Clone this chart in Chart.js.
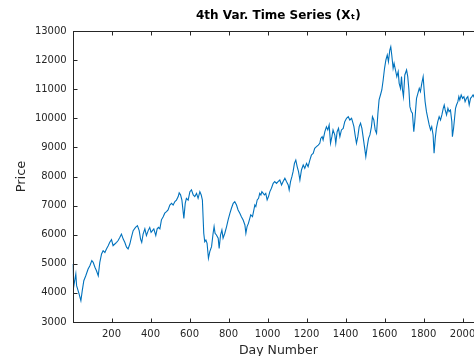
<!DOCTYPE html>
<html><head><meta charset="utf-8">
<script src="https://cdn.jsdelivr.net/npm/chart.js@4.4.0/dist/chart.umd.min.js"></script>
<style>
html,body{margin:0;padding:0;background:#fff;overflow:hidden;width:474px;height:356px;}
#wrap{position:absolute;left:0;top:0;width:490px;height:362px;}
</style></head><body>
<div id="wrap"><canvas id="c" width="490" height="362"></canvas></div>
<script>
const days = [0,7,17,21,34,43,50,58,68,80,89,99,106,115,123,132,140,149,157,166,174,183,191,200,208,217,226,234,243,251,260,268,277,285,294,302,311,323,333,342,349,355,362,371,379,388,396,403,410,417,427,434,441,448,
456,465,473,482,490,499,508,516,525,533,542,547,554,561,571,578,584,593,602,610,619,627,636,644,653,660,666,673,678,684,690,697,704,713,721,726,731,738,747,752,759,766,772,781,790,798,807,815,824,832,841,849,858,866,875,884,889,895,902,909,
914,923,930,935,940,947,954,960,966,971,978,984,991,998,1005,1012,1020,1029,1037,1046,1054,1063,1072,1080,1089,1097,1106,1111,1118,1125,1131,1138,1145,1152,1159,1166,1174,1183,1191,1200,1208,1217,1225,1234,1242,1251,1260,1268,1273,1280,1285,1294,1302,1309,1316,1323,1330,1336,1345,1350,1357,1364,
1371,1379,1388,1396,1405,1414,1422,1431,1436,1443,1449,1456,1463,1470,1477,1484,1490,1497,1504,1511,1518,1525,1533,1538,1545,1552,1559,1566,1572,1579,1586,1593,1600,1607,1614,1620,1627,1632,1637,1644,1649,1656,1663,1670,1675,1682,1687,1692,1697,1704,1713,1719,1725,1730,
1737,1743,1750,1755,1760,1764,1771,1778,1784,1791,1798,1803,1808,1815,1822,1829,1836,1842,1849,1854,1860,1866,1873,1880,1887,1894,1901,1906,1911,1918,1925,1931,1938,1945,1948,1954,1959,1964,1969,1976,1981,1986,1993,2000,2007,2013,2020,2027,2034,2041,2048,2054,2058];
const prices = [4990,4250,4650,4250,3960,3730,4080,4420,4590,4820,4935,5110,5050,4880,4760,4590,5050,5340,5450,5390,5510,5620,5740,5830,5620,5680,5740,5800,5910,6020,5850,5740,5570,5510,5680,5910,6140,6250,6310,6140,5850,5740,6020,6200,5970,6140,6250,6080,6140,6200,5970,6200,6250,6200,
6510,6620,6740,6790,6850,7020,7080,7020,7140,7190,7310,7440,7370,7190,6560,7080,7250,7190,7480,7540,7365,7310,7420,7250,7480,7365,7190,6050,5760,5820,5705,5190,5420,5590,6050,6280,6050,5990,5880,5530,5990,6160,5880,6050,6280,6506,6735,6910,7080,7135,7020,6850,6735,6620,6506,6335,6050,6280,6390,6560,
6680,6620,6850,7020,6965,7195,7250,7420,7365,7480,7420,7365,7420,7195,7310,7480,7595,7765,7825,7765,7825,7880,7710,7825,7940,7825,7710,7540,7825,7995,8165,8450,8565,8340,8165,7880,8225,8395,8280,8450,8340,8565,8740,8795,8970,9025,9080,9140,9310,9370,9255,9540,9710,9600,9770,9140,9370,9600,9425,9140,9540,9655,
9370,9600,9655,9885,10000,10057,9943,10000,9885,9715,9428,9142,9370,9715,9830,9655,9370,9027,8684,9027,9313,9428,9715,10057,9943,9600,9485,10172,10630,10800,10974,11317,11718,12004,12176,11947,12347,12462,12176,11718,11890,11660,11432,11603,11203,11031,11432,10974,10744,11489,11660,11432,10974,10401,
10229,10172,9542,9886,10344,10687,10859,11030,10916,11202,11431,10974,10573,10229,10000,9771,9599,9714,9428,8798,9313,9657,9886,10058,9943,10115,10344,10458,10286,10115,10344,10229,10286,9886,9370,9657,10000,10344,10458,10573,10745,10630,10802,10687,10745,10573,10687,10745,10458,10687,10745,10802,10745];
const xTicks = [200,400,600,800,1000,1200,1400,1600,1800,2000];
const yTicks = [3000,4000,5000,6000,7000,8000,9000,10000,11000,12000,13000];

const axisColor = '#262626';
const boxPlugin = {
  id: 'box',
  afterDraw(chart) {
    const {ctx, chartArea: a, scales: {x, y}} = chart;
    ctx.save();
    ctx.strokeStyle = axisColor;
    ctx.lineWidth = 1;
    const L = Math.round(a.left) + 0.5, R = Math.round(a.right) + 0.5;
    const T = Math.round(a.top) + 0.5, B = Math.round(a.bottom) + 0.5;
    ctx.strokeRect(L, T, R - L, B - T);
    const tl = 4;
    ctx.beginPath();
    xTicks.forEach(v => {
      const px = Math.round(x.getPixelForValue(v)) + 0.5;
      ctx.moveTo(px, B); ctx.lineTo(px, B - tl);
      ctx.moveTo(px, T); ctx.lineTo(px, T + tl);
    });
    yTicks.forEach(v => {
      const py = Math.round(y.getPixelForValue(v)) + 0.5;
      ctx.moveTo(L, py); ctx.lineTo(L + tl, py);
      ctx.moveTo(R, py); ctx.lineTo(R - tl, py);
    });
    ctx.stroke();
    ctx.restore();
  }
};

new Chart(document.getElementById('c'), {
  type: 'line',
  data: {
    datasets: [{
      data: days.map((d, i) => ({x: d, y: prices[i]})),
      borderColor: '#0072BD',
      borderWidth: 1.1,
      pointRadius: 0,
      tension: 0,
      fill: false
    }]
  },
  options: {
    responsive: false,
    animation: false,
    devicePixelRatio: 1,
    layout: {padding: {left: 0, right: 6, top: 0, bottom: 0}},
    plugins: {
      legend: {display: false},
      tooltip: {enabled: false},
      title: {
        display: true,
        text: '4th Var. Time Series (Xₜ)',
        fullSize: false,
        color: '#000',
        font: {family: 'DejaVu Sans', size: 12, weight: 'bold', lineHeight: 1.2},
        padding: {top: 9, bottom: 7.6}
      }
    },
    scales: {
      x: {
        type: 'linear', min: 1, max: 2110,
        afterBuildTicks: s => { s.ticks = xTicks.map(v => ({value: v})); },
        afterFit: s => { s.height = 40; },
        grid: {display: false, drawTicks: false},
        border: {display: false},
        ticks: {padding: 6, color: axisColor, font: {family: 'DejaVu Sans', size: 10}, maxRotation: 0, autoSkip: false, callback: v => String(v)},
        title: {display: true, text: 'Day Number', color: axisColor, font: {family: 'DejaVu Sans', size: 12.5}, padding: {top: 0, bottom: 3.3}}
      },
      y: {
        type: 'linear', min: 3000, max: 13000,
        afterBuildTicks: s => { s.ticks = yTicks.map(v => ({value: v})); },
        afterFit: s => { s.width = 72.7; },
        grid: {display: false, drawTicks: false},
        border: {display: false},
        ticks: {padding: 6, color: axisColor, font: {family: 'DejaVu Sans', size: 10}, autoSkip: false, callback: v => String(v)},
        title: {display: true, text: 'Price', color: axisColor, font: {family: 'DejaVu Sans', size: 13}, padding: {top: 14, bottom: 0}}
      }
    }
  },
  plugins: [boxPlugin]
});
</script>
</body></html>
